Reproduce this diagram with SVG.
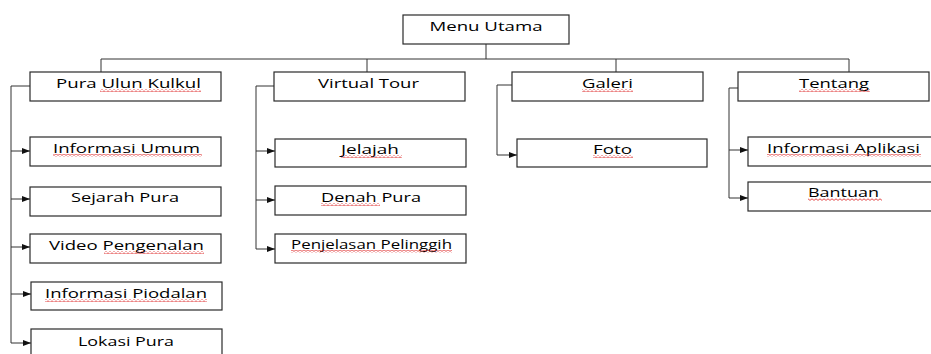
<svg xmlns="http://www.w3.org/2000/svg" width="931" height="354" viewBox="0 0 931 354">
<style>
.box{fill:#fff;stroke:#2a2a2a;stroke-width:1.2}
.t{font-family:"Open Sans","Liberation Sans",sans-serif;font-size:13.5px;fill:#000;text-anchor:middle}
.c{fill:none;stroke:#333;stroke-width:1}
.w{fill:url(#wave)}
</style>
<defs>
<marker id="ah" markerWidth="8" markerHeight="6" refX="8" refY="3" orient="auto" markerUnits="userSpaceOnUse">
<path d="M0,0 L8,3 L0,6 Z" fill="#111"/>
</marker>
<pattern id="wave" width="4" height="3" patternUnits="userSpaceOnUse">
<path d="M0,0.8 L2,2.4 L4,0.8" fill="none" stroke="#d22" stroke-width="0.8"/>
</pattern>
</defs>
<rect width="931" height="354" fill="#fff"/>
<g id="connectors">
<path class="c" d="M486,44 V59 M101,59 H849 M101,59 V72 M367,59 V72 M616,59 V72 M849,59 V72"/>
<path class="c" d="M30,86 H11 V343"/>
<path class="c" marker-end="url(#ah)" d="M11,151 H30"/>
<path class="c" marker-end="url(#ah)" d="M11,199 H30"/>
<path class="c" marker-end="url(#ah)" d="M11,247 H30"/>
<path class="c" marker-end="url(#ah)" d="M11,294 H31"/>
<path class="c" marker-end="url(#ah)" d="M11,343 H31"/>
<path class="c" d="M274,86 H256 V249"/>
<path class="c" marker-end="url(#ah)" d="M256,151 H275"/>
<path class="c" marker-end="url(#ah)" d="M256,200 H275"/>
<path class="c" marker-end="url(#ah)" d="M256,249 H275"/>
<path class="c" marker-end="url(#ah)" d="M512,85 H497 V155 H517"/>
<path class="c" d="M738,88 H729 V198"/>
<path class="c" marker-end="url(#ah)" d="M729,150 H748"/>
<path class="c" marker-end="url(#ah)" d="M729,198 H748"/>
</g>
<g id="menu-utama"><rect class="box" x="403" y="15" width="166" height="29"/><text class="t" x="486" y="31" textLength="113" lengthAdjust="spacingAndGlyphs">Menu Utama</text></g>
<g id="pura-ulun-kulkul"><rect class="box" x="30" y="72" width="191" height="29"/><text class="t" x="128.5" y="88" textLength="145" lengthAdjust="spacingAndGlyphs">Pura Ulun Kulkul</text><rect class="w" x="100" y="89" width="101" height="3"/></g>
<g id="virtual-tour"><rect class="box" x="274" y="72" width="191" height="29"/><text class="t" x="368.5" y="88" textLength="101" lengthAdjust="spacingAndGlyphs">Virtual Tour</text></g>
<g id="galeri"><rect class="box" x="512" y="72" width="191" height="29"/><text class="t" x="607.5" y="88" textLength="51" lengthAdjust="spacingAndGlyphs">Galeri</text><rect class="w" x="582" y="89" width="51" height="3"/></g>
<g id="tentang"><rect class="box" x="738" y="72" width="191" height="29"/><text class="t" x="834" y="88" textLength="70" lengthAdjust="spacingAndGlyphs">Tentang</text><rect class="w" x="799" y="89" width="71" height="3"/></g>
<g id="informasi-umum"><rect class="box" x="30" y="137" width="191" height="29"/><text class="t" x="126.5" y="153" textLength="147" lengthAdjust="spacingAndGlyphs">Informasi Umum</text><rect class="w" x="53" y="154" width="149" height="3"/></g>
<g id="sejarah-pura"><rect class="box" x="30" y="187" width="191" height="29"/><text class="t" x="125" y="202" textLength="108" lengthAdjust="spacingAndGlyphs">Sejarah Pura</text></g>
<g id="video-pengenalan"><rect class="box" x="30" y="234" width="191" height="29"/><text class="t" x="126.5" y="250" textLength="155" lengthAdjust="spacingAndGlyphs">Video Pengenalan</text><rect class="w" x="104" y="251" width="100" height="3"/></g>
<g id="informasi-piodalan"><rect class="box" x="31" y="282" width="191" height="28"/><text class="t" x="126" y="298" textLength="162" lengthAdjust="spacingAndGlyphs">Informasi Piodalan</text><rect class="w" x="45" y="299" width="162" height="3"/></g>
<g id="lokasi-pura"><rect class="box" x="31" y="329" width="191" height="29"/><text class="t" x="126" y="346" textLength="96" lengthAdjust="spacingAndGlyphs">Lokasi Pura</text></g>
<g id="jelajah"><rect class="box" x="275" y="139" width="191" height="28"/><text class="t" x="370" y="154" textLength="58" lengthAdjust="spacingAndGlyphs">Jelajah</text><rect class="w" x="341" y="155" width="61" height="3"/></g>
<g id="denah-pura"><rect class="box" x="275" y="186" width="191" height="29"/><text class="t" x="371" y="202" textLength="100" lengthAdjust="spacingAndGlyphs">Denah Pura</text><rect class="w" x="321" y="203" width="59" height="3"/></g>
<g id="penjelasan-pelinggih"><rect class="box" x="275" y="234" width="191" height="29"/><text class="t" x="371.5" y="249" textLength="161" lengthAdjust="spacingAndGlyphs" style="font-size:12.5px">Penjelasan Pelinggih</text><rect class="w" x="291" y="250" width="161" height="3"/></g>
<g id="foto"><rect class="box" x="517" y="139" width="190" height="28"/><text class="t" x="612.5" y="154" textLength="39" lengthAdjust="spacingAndGlyphs">Foto</text><rect class="w" x="593" y="155" width="40" height="3"/></g>
<g id="informasi-aplikasi"><rect class="box" x="748" y="137" width="185" height="29"/><text class="t" x="843.5" y="153" textLength="153" lengthAdjust="spacingAndGlyphs">Informasi Aplikasi</text><rect class="w" x="767" y="154" width="154" height="3"/></g>
<g id="bantuan"><rect class="box" x="748" y="182" width="185" height="29"/><text class="t" x="843.5" y="197" textLength="71" lengthAdjust="spacingAndGlyphs">Bantuan</text><rect class="w" x="808" y="198" width="74" height="3"/></g>
</svg>
